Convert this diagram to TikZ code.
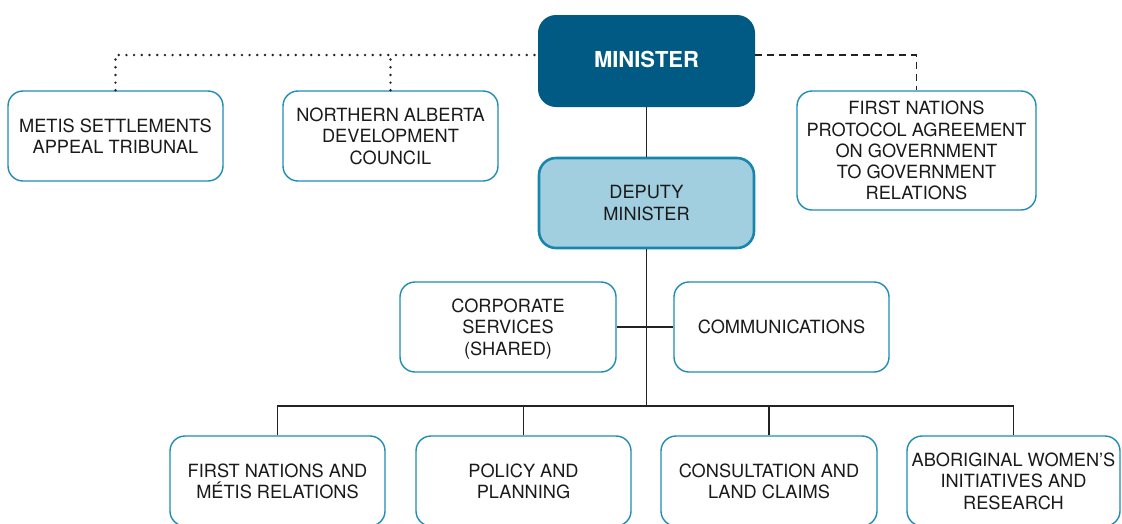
\documentclass[tikz,border=0pt]{standalone}
\usepackage{fontspec}
\setmainfont{TeX Gyre Heros}
\definecolor{ministerblue}{RGB}{0,90,132}
\definecolor{boxedge}{RGB}{30,140,180}
\definecolor{deputyfill}{RGB}{162,207,223}
\definecolor{deputyedge}{RGB}{24,134,172}
\definecolor{textdark}{RGB}{26,26,26}
\definecolor{linkgray}{RGB}{35,35,35}
\begin{document}
\begin{tikzpicture}[x=1pt,y=-1pt,
  unit/.style={draw=boxedge, line width=1.4pt, rounded corners=15pt, fill=white,
    align=center, inner sep=0pt, text=textdark,
    font=\fontsize{18.2}{21.3}\selectfont, text depth=-8pt,
    minimum width=215pt, minimum height=90pt},
  headbox/.style={fill=ministerblue, rounded corners=18pt, inner sep=0pt,
    minimum width=217pt, minimum height=92pt, text=white,
    font=\fontsize{22}{26}\selectfont\bfseries, text depth=4pt},
  deputybox/.style={unit, fill=deputyfill, draw=deputyedge, line width=2.6pt,
    rounded corners=17pt, minimum width=215pt, minimum height=90pt},
  link/.style={draw=linkgray, line width=1.4pt},
  dotlink/.style={draw=linkgray, line width=2.7pt, line cap=round,
    dash pattern=on 0pt off 7.7pt},
  dashlink/.style={draw=linkgray, line width=1.4pt, dash pattern=on 7pt off 5pt}]
\clip (0,0) rectangle (1122,523);

% top level
\node[headbox] (min) at (646.5,61) {MINISTER};
\node[deputybox] (dep) at (646.5,203) {DEPUTY\\MINISTER};

% agencies reporting to the minister
\node[unit] (mst) at (115.5,136) {METIS SETTLEMENTS\\APPEAL TRIBUNAL};
\node[unit] (nadc) at (390.5,136) {NORTHERN ALBERTA\\DEVELOPMENT\\COUNCIL};
\node[unit, minimum width=239pt, minimum height=119pt] (fnpa) at (916.5,150.5)
  {FIRST NATIONS\\PROTOCOL AGREEMENT\\ON GOVERNMENT\\TO GOVERNMENT\\RELATIONS};

% offices beside the deputy minister
\node[unit, minimum width=216pt] (corp) at (508,327) {CORPORATE\\SERVICES\\(SHARED)};
\node[unit] (comm) at (781.5,327) {COMMUNICATIONS};

% divisions
\node[unit] (fnmr) at (277.5,481) {FIRST NATIONS AND\\MÉTIS RELATIONS};
\node[unit] (pp) at (523.5,481) {POLICY AND\\PLANNING};
\node[unit, minimum width=216pt] (clc) at (769,481) {CONSULTATION AND\\LAND CLAIMS};
\node[unit, minimum width=213pt] (awir) at (1013.5,481) {ABORIGINAL WOMEN’S\\INITIATIVES AND\\RESEARCH};

% reporting lines
\coordinate (dotbus) at ([yshift=6pt]min.west);
\coordinate (bus) at (646.5,406);
\draw[dotlink] (mst.north) |- (dotbus);
\draw[dotlink] (nadc.north) -- (nadc.north |- dotbus);
\draw[dashlink] ([yshift=6pt]min.east) -| (fnpa.north);
\draw[link] (min.south) -- (dep.north);
\draw[link] (dep.south) -- (bus);
\draw[link] (corp.east) -- (comm.west);
\draw[link] (fnmr.north) |- (bus) -| (awir.north);
\draw[link] (pp.north) -- (pp.north |- bus);
\draw[link] (clc.north) -- (clc.north |- bus);
\end{tikzpicture}
\end{document}
